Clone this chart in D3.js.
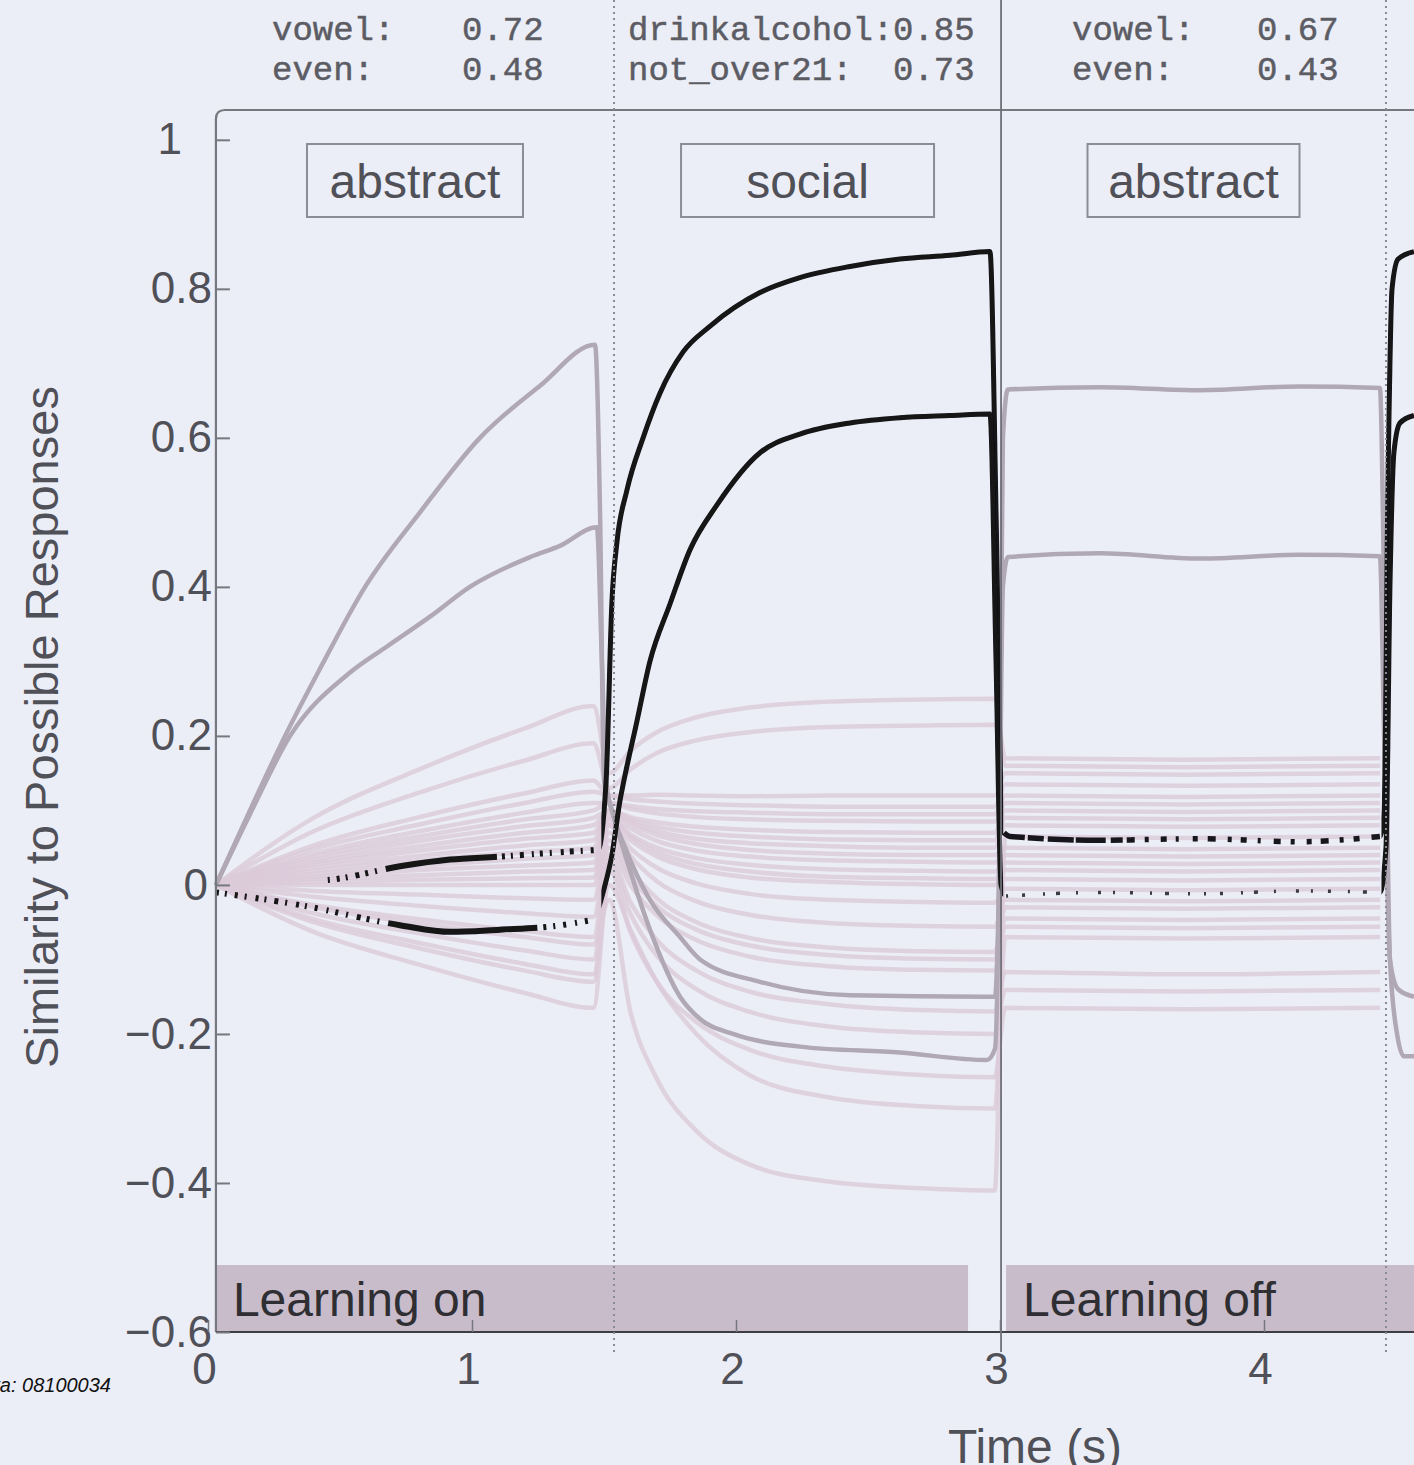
<!DOCTYPE html>
<html>
<head>
<meta charset="utf-8">
<script src="https://cdn.jsdelivr.net/npm/d3@7"></script>
<style>
  html, body { margin: 0; padding: 0; background: #eceef7; overflow: hidden; }
  svg { display: block; }
</style>
</head>
<body>
<svg id="chart" width="1414" height="1465"></svg>
<script>
// ---------------------------------------------------------------
// Data: similarity of the network state to each possible response
// ---------------------------------------------------------------

// Axis ticks
const xTicks = [0, 1, 2, 3, 4];
const yTicks = [-0.6, -0.4, -0.2, 0, 0.2, 0.4, 0.6, 0.8, 1];

// Stimulus periods (s) and their rule labels
const stimulusOnsets = [0.03, 1.538, 3.004, 4.462];
const stimulusLabels = ["abstract", "social", "abstract"];

// Response similarities printed above each period
const responseNames = [["vowel:", "even:"], ["drinkalcohol:", "not_over21:"], ["vowel:", "even:"]];
const responseValues = [["0.72", "0.48"], ["0.85", "0.73"], ["0.67", "0.43"]];

// Learning state bands (s)
const learningLabels = ["Learning on", "Learning off"];
const learningStarts = [0.03, 3.023];
const learningEnds = [2.879, 4.7];

const runId = "data: 08100034";

// Highlighted responses: [time (s), similarity]
const drinkalcohol = [
  [0.030, 0.0], [0.462, 0.007], [0.727, 0.025], [0.917, 0.034], [1.106, 0.038],
  [1.295, 0.043], [1.477, 0.047], [1.508, 0.14], [1.530, 0.38], [1.549, 0.46],
  [1.587, 0.53], [1.648, 0.60], [1.712, 0.66], [1.799, 0.715], [1.902, 0.75],
  [2.091, 0.795], [2.242, 0.815], [2.432, 0.83], [2.621, 0.84], [2.811, 0.845],
  [2.962, 0.85], [2.985, 0.5], [3.004, 0.12], [3.015, 0.07], [3.038, 0.065],
  [3.379, 0.06], [3.758, 0.062], [4.136, 0.058], [4.439, 0.065], [4.455, 0.1],
  [4.470, 0.55], [4.485, 0.8], [4.508, 0.84], [4.568, 0.85]
];
const notOver21 = [
  [0.030, -0.01], [0.348, -0.027], [0.727, -0.054], [0.917, -0.063], [1.106, -0.06],
  [1.295, -0.056], [1.455, -0.047], [1.504, 0.0], [1.530, 0.04], [1.561, 0.114],
  [1.572, 0.134], [1.625, 0.22], [1.674, 0.30], [1.750, 0.377], [1.826, 0.45],
  [1.928, 0.51], [2.091, 0.58], [2.242, 0.605], [2.432, 0.62], [2.621, 0.627],
  [2.811, 0.63], [2.962, 0.632], [2.985, 0.3], [3.004, 0.0], [3.023, -0.015],
  [3.379, -0.01], [3.758, -0.012], [4.136, -0.008], [4.439, -0.01], [4.462, 0.05],
  [4.477, 0.4], [4.492, 0.58], [4.515, 0.62], [4.568, 0.63]
];
const vowel = [
  [0.030, 0.0], [0.159, 0.1], [0.292, 0.2], [0.424, 0.29], [0.595, 0.4],
  [0.803, 0.5], [1.030, 0.6], [1.258, 0.67], [1.466, 0.725], [1.485, 0.5],
  [1.500, 0.14], [1.530, 0.1], [1.598, 0.02], [1.674, -0.06], [1.788, -0.15],
  [1.864, -0.18], [1.989, -0.2], [2.242, -0.217], [2.621, -0.225], [2.951, -0.235],
  [2.981, -0.22], [2.996, 0.0], [3.011, 0.6], [3.030, 0.665], [3.379, 0.668],
  [3.758, 0.664], [4.136, 0.669], [4.439, 0.667], [4.455, 0.4], [4.477, -0.1],
  [4.504, -0.2], [4.530, -0.23], [4.568, -0.23]
];
const even = [
  [0.030, 0.0], [0.159, 0.095], [0.311, 0.2], [0.538, 0.285], [0.678, 0.32],
  [0.841, 0.36], [0.992, 0.4], [1.220, 0.44], [1.333, 0.455], [1.473, 0.48],
  [1.492, 0.3], [1.508, 0.14], [1.530, 0.1], [1.580, 0.05], [1.674, -0.02],
  [1.788, -0.07], [1.864, -0.1], [2.091, -0.13], [2.432, -0.148], [2.943, -0.15],
  [2.981, -0.15], [2.996, 0.0], [3.011, 0.4], [3.030, 0.44], [3.379, 0.445],
  [3.758, 0.438], [4.136, 0.443], [4.439, 0.441], [4.455, 0.2], [4.477, -0.1],
  [4.508, -0.14], [4.568, -0.15]
];

// All other responses share one time base
const backgroundTimes = [0.03, 0.4, 0.8, 1.2, 1.46, 1.52, 1.6, 1.7, 1.85, 2.05, 2.35, 2.7, 2.98, 3.02, 3.7, 4.44];
const backgroundResponses = [
  [0, 0.09, 0.155, 0.21, 0.24, 0.15, 0.18, 0.205, 0.225, 0.238, 0.246, 0.249, 0.25, 0.17, 0.168, 0.17],
  [0, 0.072, 0.124, 0.167, 0.19, 0.13, 0.155, 0.177, 0.194, 0.205, 0.212, 0.214, 0.215, 0.16, 0.158, 0.16],
  [0, 0.053, 0.091, 0.123, 0.14, 0.12, 0.12, 0.121, 0.12, 0.119, 0.12, 0.12, 0.12, 0.15, 0.148, 0.15],
  [0, 0.048, 0.081, 0.11, 0.125, 0.12, 0.115, 0.112, 0.109, 0.107, 0.105, 0.105, 0.105, 0.135, 0.133, 0.135],
  [0, 0.042, 0.072, 0.097, 0.11, 0.11, 0.106, 0.102, 0.099, 0.097, 0.095, 0.095, 0.095, 0.12, 0.118, 0.12],
  [0, 0.038, 0.065, 0.088, 0.1, 0.11, 0.102, 0.096, 0.091, 0.088, 0.086, 0.085, 0.085, 0.11, 0.108, 0.11],
  [0, 0.034, 0.059, 0.079, 0.09, 0.1, 0.091, 0.084, 0.078, 0.074, 0.071, 0.07, 0.07, 0.1, 0.098, 0.1],
  [0, 0.03, 0.052, 0.07, 0.08, 0.1, 0.088, 0.078, 0.07, 0.065, 0.061, 0.06, 0.06, 0.09, 0.088, 0.09],
  [0, 0.027, 0.046, 0.062, 0.07, 0.1, 0.085, 0.072, 0.062, 0.056, 0.052, 0.05, 0.05, 0.08, 0.078, 0.08],
  [0, 0.023, 0.039, 0.053, 0.06, 0.1, 0.082, 0.067, 0.055, 0.047, 0.042, 0.04, 0.04, 0.05, 0.048, 0.05],
  [0, 0.019, 0.033, 0.044, 0.05, 0.095, 0.076, 0.059, 0.046, 0.038, 0.033, 0.031, 0.03, 0.04, 0.038, 0.04],
  [0, 0.015, 0.026, 0.035, 0.04, 0.09, 0.068, 0.05, 0.036, 0.027, 0.021, 0.019, 0.018, 0.03, 0.028, 0.03],
  [0, 0.011, 0.02, 0.026, 0.03, 0.09, 0.065, 0.044, 0.028, 0.018, 0.011, 0.009, 0.008, 0.02, 0.018, 0.02],
  [0, 0.008, 0.013, 0.018, 0.02, 0.085, 0.06, 0.038, 0.021, 0.01, 0.004, 0.001, 0, 0.008, 0.006, 0.008],
  [0, 0.004, 0.007, 0.009, 0.01, 0.08, 0.049, 0.023, 0.002, -0.012, -0.02, -0.023, -0.024, -0.005, -0.007, -0.005],
  [0, 0, 0, 0, 0, 0.08, 0.039, 0.005, -0.022, -0.04, -0.051, -0.055, -0.056, -0.02, -0.022, -0.02],
  [0, -0.008, -0.013, -0.018, -0.02, 0.07, 0.022, -0.018, -0.05, -0.071, -0.084, -0.089, -0.09, -0.03, -0.032, -0.03],
  [0, -0.016, -0.028, -0.038, -0.043, 0.06, 0.012, -0.028, -0.06, -0.081, -0.094, -0.099, -0.1, -0.045, -0.047, -0.045],
  [0, -0.027, -0.046, -0.062, -0.07, 0.05, 0, -0.041, -0.074, -0.096, -0.109, -0.114, -0.115, -0.056, -0.058, -0.056],
  [0, -0.038, -0.065, -0.088, -0.1, 0.04, -0.023, -0.074, -0.115, -0.143, -0.16, -0.168, -0.17, -0.117, -0.12, -0.117],
  [0, -0.05, -0.085, -0.115, -0.13, 0.03, -0.039, -0.095, -0.14, -0.17, -0.19, -0.198, -0.2, -0.141, -0.143, -0.141],
  [0, -0.063, -0.107, -0.145, -0.165, 0.02, -0.063, -0.13, -0.184, -0.221, -0.244, -0.255, -0.258, -0.165, -0.167, -0.165],
  [0, -0.046, -0.078, -0.106, -0.12, 0, -0.06, -0.13, -0.2, -0.255, -0.285, -0.297, -0.3, -0.07, -0.072, -0.07],
  [0, -0.03, -0.052, -0.07, -0.08, -0.02, -0.17, -0.26, -0.33, -0.375, -0.398, -0.407, -0.41, 0.065, 0.063, 0.065]
];

// ---------------------------------------------------------------
// Layout
// ---------------------------------------------------------------
const W = 1414, H = 1465;
const svg = d3.select("#chart");
const sans = "'Liberation Sans', Arial, Helvetica, sans-serif";
const mono = "'Liberation Mono', 'Courier New', monospace";

const x = d3.scaleLinear().domain([0, 5]).range([208, 1528]);
const y = d3.scaleLinear().domain([-0.6, 1.04]).range([1332, 110]);
const plotLeft = x(stimulusOnsets[0]);
const plotTop = y(1.04), plotBottom = y(-0.6);

svg.append("rect").attr("width", W).attr("height", H).attr("fill", "#eceef7");

const defs = svg.append("defs");
// solid drawing only where learning drives the responses (and the final onset)
const solidClip = defs.append("clipPath").attr("id", "solidSpans");
solidClip.append("rect").attr("x", x(1.49)).attr("y", 0).attr("width", x(3.012) - x(1.49)).attr("height", H);
solidClip.append("rect").attr("x", x(4.445)).attr("y", 0).attr("width", W).attr("height", H);
// slight softening of the traces
defs.append("filter").attr("id", "soft")
  .append("feGaussianBlur").attr("stdDeviation", 0.6);

// Learning bands
learningLabels.forEach((lab, i) => {
  const x0 = x(learningStarts[i]), x1 = Math.min(x(learningEnds[i]), W + 10);
  svg.append("rect")
    .attr("x", x0).attr("y", 1265).attr("width", x1 - x0).attr("height", plotBottom - 1265)
    .attr("fill", "#c8bccb");
  svg.append("text")
    .attr("x", x0 + 17).attr("y", 1316)
    .attr("font-family", sans).attr("font-size", 48).attr("fill", "#2f2f33")
    .text(lab);
});

// Traces
const line = d3.line()
  .x(d => x(d[0])).y(d => y(d[1]))
  .curve(d3.curveMonotoneX);

const gTraces = svg.append("g").attr("filter", "url(#soft)");

backgroundResponses.forEach(vals => {
  const pts = backgroundTimes.map((t, i) => [t, vals[i]]);
  gTraces.append("path")
    .attr("d", line(pts))
    .attr("fill", "none")
    .attr("stroke", "#dccbd9")
    .attr("stroke-opacity", 0.8)
    .attr("stroke-width", 4.5)
    .attr("stroke-linejoin", "round");
});

[vowel, even].forEach(tr => {
  gTraces.append("path")
    .attr("d", line(tr))
    .attr("fill", "none")
    .attr("stroke", "#b1a8b5")
    .attr("stroke-width", 4.5)
    .attr("stroke-linejoin", "round");
});

// learning-driven stretches: solid
[drinkalcohol, notOver21].forEach(tr => {
  gTraces.append("path")
    .attr("d", line(tr))
    .attr("clip-path", "url(#solidSpans)")
    .attr("fill", "none")
    .attr("stroke", "#121216")
    .attr("stroke-width", 5)
    .attr("stroke-linejoin", "round");
});

// quiet stretches: speckled, each stretch starts its own dash pattern
const quietSpans = [[0, 1.48], [3.012, 4.442]];
const speckles = [
  // drinkalcohol: before learning, during abstract (learning off)
  ["0 112 2 7 3 6 2 8 4 6 3 7 2 9 112 5 3 6 2 7 4 8 2 6 3 7 2 9 3 6 4 7 2 8 3 6 2 9 3 7",
   "22 3 16 4 26 2 30 5 12 4 8 10 4 12 6 9 3 14 5 10 8 12 4 9 6 11 3 13 7 10 4 12 5 9 8 11 4 10 6 12"],
  // not_over21
  ["3 6 2 8 3 7 2 9 3 6 2 8 4 7 2 9 3 6 2 8 3 9 2 7 3 8 2 9 4 6 3 8 2 9 150 6 3 7 2 8 3 9 2 8",
   "2 14 3 18 2 11 4 16 2 20 3 12 2 15 3 17 2 13 4 19 2 14"]
];
const speckleWidth = [[6, 5.5], [6, 3.5]];
const speckleColour = [["#141418", "#18181c"], ["#141418", "#3a3a42"]];
[drinkalcohol, notOver21].forEach((tr, k) => {
  quietSpans.forEach((span, s) => {
    const pts = tr.filter(d => d[0] >= span[0] && d[0] <= span[1]);
    gTraces.append("path")
      .attr("d", line(pts))
      .attr("fill", "none")
      .attr("stroke", speckleColour[k][s])
      .attr("stroke-width", speckleWidth[k][s])
      .attr("stroke-dasharray", speckles[k][s])
      .attr("stroke-linejoin", "round");
  });
});

// Plot frame (left, top with rounded corner, bottom axis)
const r = 9;
svg.append("path")
  .attr("d", `M${plotLeft},${plotBottom} L${plotLeft},${plotTop + r} Q${plotLeft},${plotTop} ${plotLeft + r},${plotTop} L${W + 5},${plotTop}`)
  .attr("fill", "none").attr("stroke", "#77777f").attr("stroke-width", 2.2);
svg.append("line")
  .attr("x1", plotLeft).attr("x2", W + 5).attr("y1", plotBottom).attr("y2", plotBottom)
  .attr("stroke", "#3d3d44").attr("stroke-width", 2.2);

// Period separators
stimulusOnsets.slice(1).forEach((t, i) => {
  svg.append("line")
    .attr("x1", x(t)).attr("x2", x(t)).attr("y1", 0).attr("y2", 1352)
    .attr("stroke", i === 1 ? "#6e6e78" : "#8a8a94")
    .attr("stroke-width", i === 1 ? 1.8 : 2)
    .attr("stroke-dasharray", i === 1 ? null : "2 4");
});

// Axes
const yAxis = d3.axisLeft(y).tickValues(yTicks).tickSize(-14).tickPadding(4)
  .tickFormat(d => d === 0 ? "0" : d === 1 ? "1" : d3.format(".1f")(d).replace("-", "\u2212"));
const gy = svg.append("g").attr("transform", `translate(${plotLeft},0)`).call(yAxis);
gy.select(".domain").remove();
gy.selectAll(".tick line").attr("stroke", "#77777f").attr("stroke-width", 2);
gy.selectAll(".tick text").attr("font-family", sans).attr("font-size", 44).attr("fill", "#505058")
  .attr("dx", d => d === 1 ? -30 : d === 0 ? -4 : 0);

const xAxis = d3.axisBottom(x).tickValues(xTicks).tickSize(-12).tickPadding(21).tickFormat(d3.format("d"));
const gx = svg.append("g").attr("transform", `translate(0,${plotBottom})`).call(xAxis);
gx.select(".domain").remove();
gx.selectAll(".tick line").attr("stroke", "#77777f").attr("stroke-width", 1.5);
gx.selectAll(".tick text").attr("font-family", sans).attr("font-size", 44).attr("fill", "#505058")
  .attr("dx", -4);

// Axis titles
svg.append("text")
  .attr("transform", "translate(58,727) rotate(-90)")
  .attr("text-anchor", "middle")
  .attr("font-family", sans).attr("font-size", 47).attr("fill", "#505058")
  .text("Similarity to Possible Responses");
svg.append("text")
  .attr("x", 1035).attr("y", 1463).attr("text-anchor", "middle")
  .attr("font-family", sans).attr("font-size", 48).attr("fill", "#505058")
  .text("Time (s)");

svg.append("text")
  .attr("x", 111).attr("y", 1392).attr("text-anchor", "end")
  .attr("font-family", sans).attr("font-style", "italic").attr("font-size", 20).attr("fill", "#111")
  .text(runId);

// Rule labels in boxes
const boxWidths = [216, 253, 212];
stimulusLabels.forEach((lab, i) => {
  const cx = (x(stimulusOnsets[i]) + x(stimulusOnsets[i + 1])) / 2;
  svg.append("rect")
    .attr("x", cx - boxWidths[i] / 2).attr("y", 144).attr("width", boxWidths[i]).attr("height", 73)
    .attr("fill", "none").attr("stroke", "#8c8c96").attr("stroke-width", 2);
  svg.append("text")
    .attr("x", cx).attr("y", 198).attr("text-anchor", "middle")
    .attr("font-family", sans).attr("font-size", 48).attr("fill", "#505058")
    .text(lab);
});

// Response similarity read-outs
const nameX = [272, 628, 1072];
const valueX = [462, 893, 1257];
responseNames.forEach((names, i) => {
  names.forEach((nm, j) => {
    const yy = 40 + j * 40;
    svg.append("text")
      .attr("x", nameX[i]).attr("y", yy)
      .attr("font-family", mono).attr("font-size", 34).attr("fill", "#5c5c64")
      .attr("stroke", "#5c5c64").attr("stroke-width", 0.5)
      .text(nm);
    svg.append("text")
      .attr("x", valueX[i]).attr("y", yy)
      .attr("font-family", mono).attr("font-size", 34).attr("fill", "#5c5c64")
      .attr("stroke", "#5c5c64").attr("stroke-width", 0.5)
      .text(responseValues[i][j]);
  });
});
</script>
</body>
</html>
